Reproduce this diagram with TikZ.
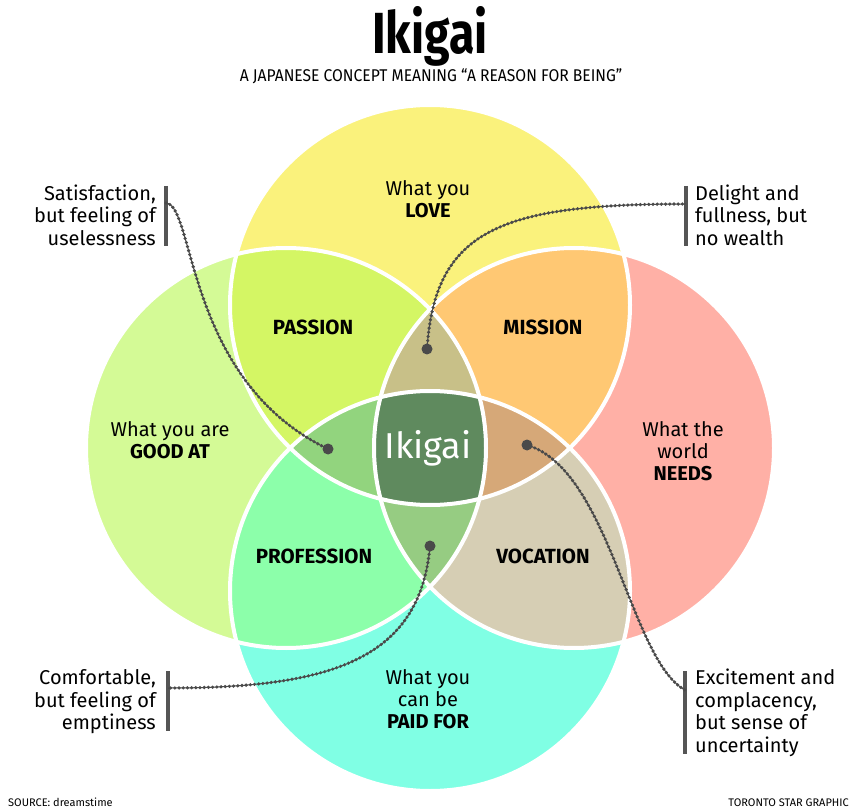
\documentclass[tikz,border=0pt]{standalone}
\usepackage{fontspec}
\setmainfont{Fira Sans}
\newfontfamily\titlefont[FakeStretch=0.8]{Fira Sans}
\newfontfamily\subfont[FakeStretch=0.92]{Fira Sans}
\usetikzlibrary{positioning}
\definecolor{lovecol}{HTML}{FAF27C}
\definecolor{goodcol}{HTML}{D4FA96}
\definecolor{needcol}{HTML}{FFB0A6}
\definecolor{paidcol}{HTML}{80FFE4}
\definecolor{passcol}{HTML}{D4F664}
\definecolor{misscol}{HTML}{FFC873}
\definecolor{profcol}{HTML}{8CFFAA}
\definecolor{voccol}{HTML}{D6CEB4}
\definecolor{upcol}{HTML}{C8C088}
\definecolor{lowcol}{HTML}{96CC82}
\definecolor{leftcol}{HTML}{92D47E}
\definecolor{rightcol}{HTML}{D6A878}
\definecolor{midcol}{HTML}{5F8A5E}
\definecolor{beadcol}{HTML}{4A4A4A}
\definecolor{barcol}{HTML}{555555}
\tikzset{ring/.style={draw=white,line width=4pt},
  lbl/.style={font=\fontsize{20}{22}\selectfont,align=center,inner sep=0pt},
  tag/.style={font=\fontsize{20.5}{24}\selectfont\bfseries,inner sep=0pt},
  note/.style={font=\fontsize{20}{22.5}\selectfont,inner sep=0pt},
  tiny/.style={font=\fontsize{11}{13}\selectfont,inner sep=0pt},
  bar/.style={draw=barcol,line width=4pt},
  beads/.style={draw=beadcol,line width=3.6pt,line cap=round,dash pattern=on 0pt off 4.2pt},
  thread/.style={draw=beadcol,line width=1pt},
  knob/.style={fill=beadcol}}
\def\rad{200pt}

\begin{document}
\begin{tikzpicture}[x=1pt,y=-1pt]
     \useasboundingbox[fill=white] (0,0) rectangle (857,810);
     \coordinate (T) at (430,305);
     \coordinate (B) at (430,591);
     \coordinate (L) at (286,448);
     \coordinate (R) at (574,448);
     \fill[lovecol] (T) circle[radius=\rad];
     \fill[goodcol] (L) circle[radius=\rad];
     \fill[needcol] (R) circle[radius=\rad];
     \fill[paidcol] (B) circle[radius=\rad];
     \begin{scope}
      \clip (T) circle[radius=\rad];
      \fill[passcol] (L) circle[radius=\rad];
      \fill[misscol] (R) circle[radius=\rad];
     \end{scope}
     \begin{scope}
      \clip (B) circle[radius=\rad];
      \fill[profcol] (L) circle[radius=\rad];
      \fill[voccol] (R) circle[radius=\rad];
     \end{scope}
     \begin{scope}
      \clip (L) circle[radius=\rad];
      \clip (R) circle[radius=\rad];
      \fill[upcol] (T) circle[radius=\rad];
      \fill[lowcol] (B) circle[radius=\rad];
     \end{scope}
     \begin{scope}
      \clip (T) circle[radius=\rad];
      \clip (B) circle[radius=\rad];
      \fill[leftcol] (L) circle[radius=\rad];
      \fill[rightcol] (R) circle[radius=\rad];
      \clip (L) circle[radius=\rad];
      \fill[midcol] (R) circle[radius=\rad];
     \end{scope}
     \draw[ring] (T) circle[radius=\rad];
     \draw[ring] (L) circle[radius=\rad];
     \draw[ring] (R) circle[radius=\rad];
     \draw[ring] (B) circle[radius=\rad];

     \node[anchor=base,inner sep=0pt,font=\titlefont\fontsize{58}{60}\selectfont\bfseries] (title) at (430,54) {Ikigai};
     \node[anchor=base,inner sep=0pt,font=\subfont\fontsize{17}{19}\selectfont] (subtitle) at (431,82) {A JAPANESE CONCEPT MEANING “A REASON FOR BEING”};

     \node[lbl] (love) at (428,199) {What you\\\textbf{LOVE}};
     \node[lbl] (good) at (170,440) {What you are\\\textbf{GOOD AT}};
     \node[lbl] (needs) at (683,451) {What the\\world\\\textbf{NEEDS}};
     \node[lbl] (paid) at (428,699) {What you\\can be\\\textbf{PAID FOR}};
     \node[tag] (passion) at (313,327) {PASSION};
     \node[tag] (mission) at (543,327) {MISSION};
     \node[tag] (profession) at (314,556) {PROFESSION};
     \node[tag] (vocation) at (543,556) {VOCATION};
     \node[inner sep=0pt,text=white,font=\fontsize{36}{40}\selectfont] (ikigai) at (428,448) {Ikigai};

     \node[note,align=right,anchor=east] (sat) at (156,215) {Satisfaction,\\but feeling of\\uselessness};
     \node[note,align=left,anchor=west] (delight) at (695,215) {Delight and\\fullness, but\\no wealth};
     \node[note,align=right,anchor=east] (comf) at (156,702) {Comfortable,\\but feeling of\\emptiness};
     \node[note,align=left,anchor=west] (excite) at (695,713) {Excitement and\\complacency,\\but sense of\\uncertainty};
     \node[tiny,anchor=base west] (source) at (8,806) {SOURCE: dreamstime};
     \node[tiny,anchor=base east] (credit) at (849,806) {TORONTO STAR GRAPHIC};

     \draw[bar] (166,186) -- (166,246);
     \draw[bar] (686,186) -- (686,246);
     \draw[bar] (168,671) -- (168,731);
     \draw[bar] (685,671) -- (685,754);
     \coordinate (b1) at (166,203);
     \coordinate (b2) at (686,204);
     \coordinate (b3) at (168,688);
     \coordinate (b4) at (685,690);
     \coordinate (d1) at (328,449);
     \coordinate (d2) at (427,349);
     \coordinate (d3) at (430,546);
     \coordinate (d4) at (527,445);

     \draw[thread] (b1) .. controls (195,205) and (185,380) .. (d1);
     \draw[beads] (b1) .. controls (195,205) and (185,380) .. (d1);
     \draw[thread] (d2) .. controls (435,230) and (500,204) .. (b2);
     \draw[beads] (d2) .. controls (435,230) and (500,204) .. (b2);
     \draw[thread] (d3) .. controls (420,660) and (330,688) .. (b3);
     \draw[beads] (d3) .. controls (420,660) and (330,688) .. (b3);
     \draw[thread] (d4) .. controls (610,470) and (630,660) .. (b4);
     \draw[beads] (d4) .. controls (610,470) and (630,660) .. (b4);
     \fill[knob] (d1) circle[radius=5.5pt];
     \fill[knob] (d2) circle[radius=5.5pt];
     \fill[knob] (d3) circle[radius=5.5pt];
     \fill[knob] (d4) circle[radius=5.5pt];
\end{tikzpicture}
\end{document}
